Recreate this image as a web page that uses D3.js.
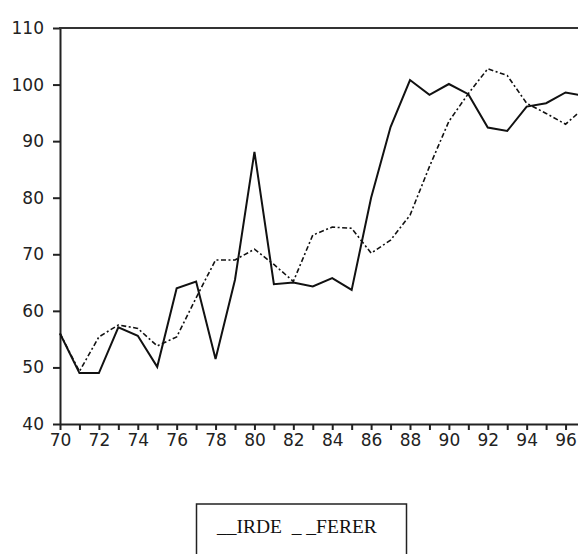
<!DOCTYPE html>
<html>
<head>
<meta charset="utf-8">
<script src="https://cdn.jsdelivr.net/npm/d3@7"></script>
<style>
  html, body { margin: 0; padding: 0; background: #fff; }
  svg { display: block; }
</style>
</head>
<body>
<svg id="chart" width="578" height="554"></svg>
<script>
const years = [70,71,72,73,74,75,76,77,78,79,80,81,82,83,84,85,86,87,88,89,90,91,92,93,94,95,96,97];
const irde  = [56,49,49,57.1,55.6,50.1,64,65.2,51.5,65.5,88.1,64.7,65,64.3,65.8,63.7,80,92.5,100.8,98.2,100.1,98.3,92.4,91.8,96.1,96.7,98.6,98];
const ferer = [56,49.3,55.4,57.5,56.9,53.8,55.4,62.3,69,69,70.9,68.2,65.2,73.4,74.8,74.6,70.2,72.5,76.9,85.5,93.5,98.4,102.8,101.6,96.7,94.9,93,96];
const yTicks = [40,50,60,70,80,90,100,110];
const xTickYears = [70,71,72,73,74,75,76,77,78,79,80,81,82,83,84,85,86,87,88,89,90,91,92,93,94,95,96,97];
const xLabels = [70,72,74,76,78,80,82,84,86,88,90,92,94,96];
const seriesNames = ["IRDE", "FERER"];

const svg = d3.select("#chart");
const x = d3.scaleLinear().domain([70, 97]).range([60, 585]);
const y = d3.scaleLinear().domain([40, 110]).range([424, 28]);

const axisFont = "'DejaVu Sans', Verdana, sans-serif";

// Y axis
const yAxis = svg.append("g").attr("transform", "translate(60,0)")
  .call(d3.axisLeft(y).tickValues(yTicks).tickSize(7).tickSizeOuter(0).tickPadding(9));
yAxis.select(".domain").attr("stroke", "#222").attr("stroke-width", 2);
yAxis.selectAll(".tick line").attr("stroke", "#222").attr("stroke-width", 2);
yAxis.selectAll(".tick text").attr("font-family", axisFont).attr("font-size", 17).attr("fill", "#222");

// X axis
const xAxis = svg.append("g").attr("transform", "translate(0,424)")
  .call(d3.axisBottom(x).tickValues(xTickYears).tickSize(6).tickSizeOuter(0).tickPadding(4)
    .tickFormat(d => xLabels.includes(d) ? String(d) : ""));
xAxis.select(".domain").attr("stroke", "#222").attr("stroke-width", 2);
xAxis.selectAll(".tick line").attr("stroke", "#222").attr("stroke-width", 2);
xAxis.selectAll(".tick text").attr("font-family", axisFont).attr("font-size", 17).attr("fill", "#222");

// Top frame line
svg.append("line")
  .attr("x1", x(70) - 1).attr("x2", x(97)).attr("y1", y(110)).attr("y2", y(110))
  .attr("stroke", "#333").attr("stroke-width", 2);

// Lines
const lineGen = vals => d3.line().x((d, i) => x(years[i])).y(d => y(d))(vals);

svg.append("path").attr("d", lineGen(ferer))
  .attr("fill", "none").attr("stroke", "#111").attr("stroke-width", 1.6)
  .attr("stroke-dasharray", "5,2.5,2,2.5");

svg.append("path").attr("d", lineGen(irde))
  .attr("fill", "none").attr("stroke", "#111").attr("stroke-width", 2);

// Legend
svg.append("rect")
  .attr("x", 196.5).attr("y", 504).attr("width", 210).attr("height", 60)
  .attr("fill", "none").attr("stroke", "#222").attr("stroke-width", 1.5);
svg.append("text")
  .attr("x", 217).attr("y", 533)
  .attr("font-family", "'Liberation Serif', 'Times New Roman', serif")
  .attr("font-size", 19.5).attr("fill", "#111")
  .style("white-space", "pre")
  .text("__" + seriesNames[0] + "  _ _" + seriesNames[1]);
</script>
</body>
</html>
